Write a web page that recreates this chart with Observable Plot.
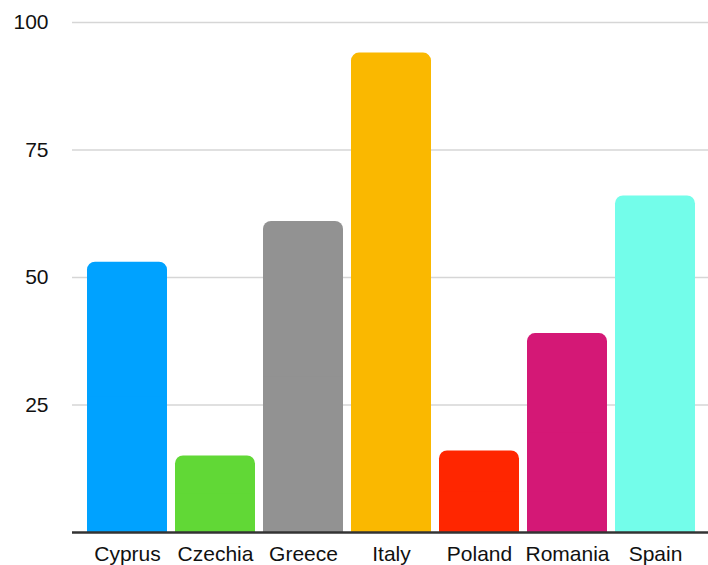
<!DOCTYPE html>
<html>
<head>
<meta charset="utf-8">
<script src="https://cdn.jsdelivr.net/npm/d3@7"></script>
<script src="https://cdn.jsdelivr.net/npm/@observablehq/plot@0.6"></script>
<style>
  html, body { margin: 0; padding: 0; background: #fff; }
  #chart svg { display: block; }
</style>
</head>
<body>
<div id="chart"></div>
<script>
const countries = ["Cyprus", "Czechia", "Greece", "Italy", "Poland", "Romania", "Spain"];
const values = [53, 15, 61, 94, 16, 39, 66];
const colors = ["#00A2FF", "#61D836", "#929292", "#FAB800", "#FF2600", "#D41876", "#73FDEA"];
const yTicks = [25, 50, 75, 100];

const data = countries.map((c, i) => ({country: c, value: values[i]}));

const chart = Plot.plot({
  width: 708,
  height: 565,
  marginLeft: 72,
  marginRight: 0,
  marginTop: 22,
  marginBottom: 33,
  style: {fontFamily: "'Liberation Sans', Arial, Helvetica, sans-serif", fontSize: "21px", color: "#111", background: "#fff"},
  x: {domain: countries, range: [80, 703], paddingInner: 0.0909, paddingOuter: 0.085, label: null},
  y: {domain: [0, 100], label: null},
  color: {domain: countries, range: colors},
  marks: [
    Plot.ruleY(yTicks, {stroke: "#d6d6d6", strokeWidth: 1.5}),
    Plot.barY(data, {x: "country", y: "value", fill: "country", rx: 8}),
    Plot.barY(data, {x: "country", y1: 0, y2: d => d.value / 2, fill: "country"}),
    Plot.ruleY([0], {stroke: "#333", strokeWidth: 2.5}),
    Plot.axisY({ticks: yTicks, tickSize: 0, tickPadding: 24, fontSize: 21, label: null}),
    Plot.axisX({tickSize: 0, tickPadding: 14, fontSize: 21, label: null})
  ]
});
document.getElementById("chart").appendChild(chart);
</script>
</body>
</html>
